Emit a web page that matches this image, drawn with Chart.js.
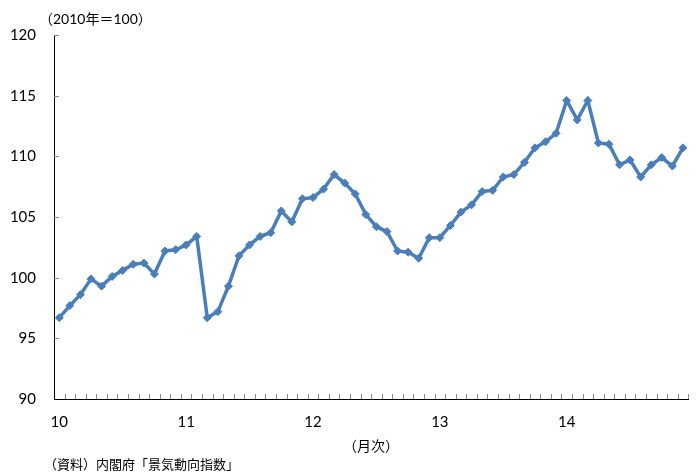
<!DOCTYPE html>
<html>
<head>
<meta charset="utf-8">
<script src="https://cdn.jsdelivr.net/npm/chart.js@4.4.0/dist/chart.umd.min.js"></script>
<style>
  html, body { margin: 0; padding: 0; background: #fff; }
</style>
</head>
<body>
<canvas id="ciChart" width="697" height="472"></canvas>
<script>
// 景気動向指数 CI一致指数 (2010=100), 2010年1月〜2014年12月
const years = ['10', '11', '12', '13', '14'];
const monthsPerYear = 12;
const ciValues = [
    96.7, 97.7, 98.6, 99.9, 99.3, 100.1, 100.6, 101.1, 101.2, 100.3, 102.2, 102.3,
    102.7, 103.4, 96.7, 97.2, 99.3, 101.8, 102.7, 103.4, 103.7, 105.5, 104.6, 106.5,
    106.6, 107.3, 108.5, 107.8, 106.9, 105.2, 104.2, 103.8, 102.2, 102.1, 101.6, 103.3,
    103.3, 104.3, 105.4, 106.0, 107.1, 107.2, 108.3, 108.5, 109.5, 110.7, 111.2, 111.9,
    114.6, 113.0, 114.6, 111.1, 111.0, 109.3, 109.7, 108.3, 109.3, 109.9, 109.2, 110.7
];
const yTicks = [90, 95, 100, 105, 110, 115, 120];
const unitNote = '（2010年＝100）';
const xTitle = '（月次）';
const sourceNote = '（資料）内閣府「景気動向指数」';

const FONT = 'Lato, "Noto Sans CJK JP", sans-serif';
const lineColor = '#4A7EBB';

// 月ごとのカテゴリ (ラベルは年の頭だけ表示)
const categories = years.flatMap(y =>
    Array.from({ length: monthsPerYear }, (_, m) => y + '/' + (m + 1)));

// 軸の内側に向いた目盛り
const innerTicks = {
    id: 'innerTicks',
    beforeDatasetsDraw(chart) {
        const { ctx, scales: { x, y } } = chart;
        const half = (x.getPixelForValue(1) - x.getPixelForValue(0)) / 2;
        ctx.save();
        ctx.strokeStyle = '#868686';
        ctx.lineWidth = 1;
        ctx.beginPath();
        for (let i = 1; i <= categories.length; i++) {
            const px = Math.round(x.getPixelForValue(i) - half) + 0.5;
            ctx.moveTo(px, y.bottom);
            ctx.lineTo(px, y.bottom - 5);
        }
        yTicks.slice(1).forEach(v => {
            const py = Math.round(y.getPixelForValue(v)) + 0.5;
            ctx.moveTo(x.left, py);
            ctx.lineTo(x.left + 5, py);
        });
        ctx.stroke();
        ctx.restore();
    }
};

// 単位と出所の注記
const notes = {
    id: 'notes',
    afterDraw(chart) {
        const ctx = chart.ctx;
        ctx.save();
        ctx.fillStyle = '#000';
        ctx.textBaseline = 'middle';
        ctx.textAlign = 'left';
        ctx.font = '14px ' + FONT;
        ctx.fillText(unitNote, 39, 19);
        ctx.font = '13px ' + FONT;
        ctx.fillText(sourceNote, 44, 465);
        ctx.restore();
    }
};

const chart = new Chart(document.getElementById('ciChart'), {
    type: 'line',
    data: {
        labels: categories,
        datasets: [{
            data: ciValues,
            borderColor: lineColor,
            backgroundColor: lineColor,
            borderWidth: 3.5,
            tension: 0,
            pointStyle: 'rectRot',
            pointRadius: 4,
            pointBorderWidth: 1,
            pointBorderColor: lineColor,
            pointBackgroundColor: lineColor
        }]
    },
    options: {
        responsive: false,
        animation: false,
        layout: { padding: { top: 35, right: 4, left: 0, bottom: 17 } },
        plugins: {
            legend: { display: false },
            tooltip: { enabled: false }
        },
        scales: {
            x: {
                offset: true,
                afterFit: (s) => { s.height = 56; },
                grid: { display: false, drawTicks: false },
                border: { display: true, color: '#000', width: 1 },
                ticks: {
                    autoSkip: false,
                    maxRotation: 0,
                    padding: 14,
                    color: '#000',
                    font: { family: FONT, size: 15 },
                    callback: (v, i) => (i % monthsPerYear === 0 ? years[i / monthsPerYear] : '')
                },
                title: {
                    display: true,
                    text: xTitle,
                    color: '#000',
                    font: { family: FONT, size: 14 },
                    padding: { top: 0, bottom: 0 }
                }
            },
            y: {
                min: 90,
                max: 120,
                afterFit: (s) => { s.width = 54; },
                afterBuildTicks: (s) => { s.ticks = yTicks.map(v => ({ value: v })); },
                grid: { display: false, drawTicks: false },
                border: { display: true, color: '#000', width: 1 },
                ticks: {
                    padding: 18,
                    color: '#000',
                    font: { family: FONT, size: 15 }
                }
            }
        }
    },
    plugins: [innerTicks, notes]
});
</script>
</body>
</html>
